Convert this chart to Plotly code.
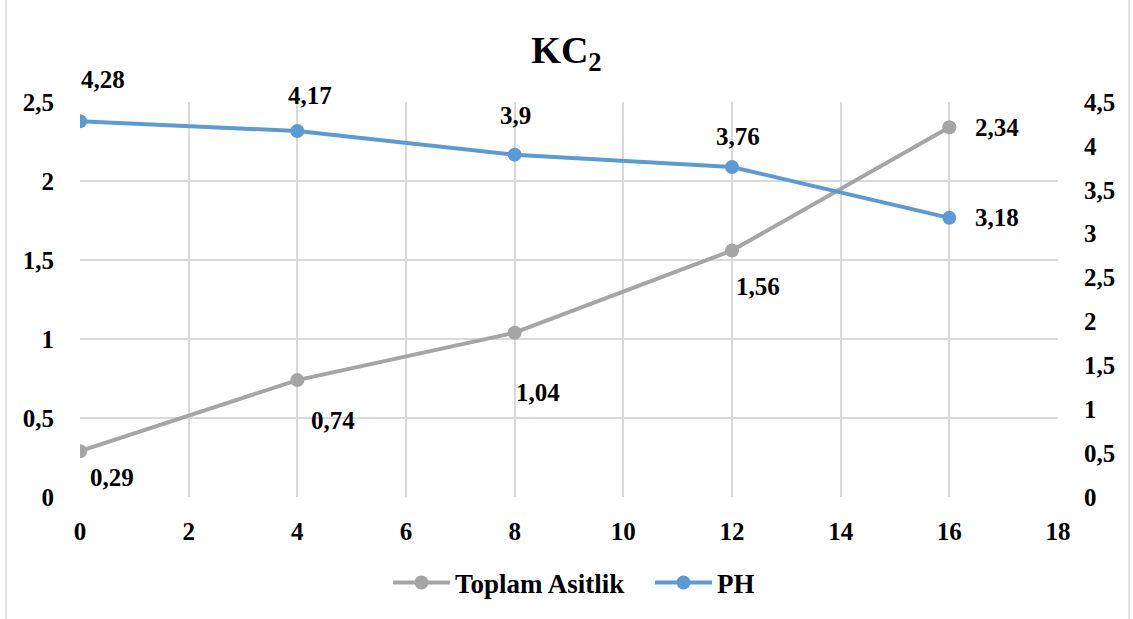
import plotly.graph_objects as go

x_days = [0, 4, 8, 12, 16]
toplam_asitlik = [0.29, 0.74, 1.04, 1.56, 2.34]
ph = [4.28, 4.17, 3.9, 3.76, 3.18]
asit_labels = ["0,29", "0,74", "1,04", "1,56", "2,34"]
ph_labels = ["4,28", "4,17", "3,9", "3,76", "3,18"]
x_ticks = [0, 2, 4, 6, 8, 10, 12, 14, 16, 18]
x_tick_text = ["0", "2", "4", "6", "8", "10", "12", "14", "16", "18"]
left_ticks = [0, 0.5, 1, 1.5, 2, 2.5]
left_tick_text = ["0", "0,5", "1", "1,5", "2", "2,5"]
right_ticks = [0, 0.5, 1, 1.5, 2, 2.5, 3, 3.5, 4, 4.5]
right_tick_text = ["0", "0,5", "1", "1,5", "2", "2,5", "3", "3,5", "4", "4,5"]

W, H = 1133, 619
L, R, T, B = 80, 75, 102, 122
pw, ph_h = W - L - R, H - T - B

FONT = "Liberation Serif"
GRAY = "#a5a5a5"
BLUE = "#5b9bd5"

def bold(items):
    return ["<b>" + t + "</b>" for t in items]

fig = go.Figure()
fig.add_trace(go.Scatter(x=x_days, y=toplam_asitlik, name="<b>Toplam Asitlik</b>", mode="lines+markers",
                         line=dict(color=GRAY, width=4), marker=dict(color=GRAY, size=14), yaxis="y"))
fig.add_trace(go.Scatter(x=x_days, y=ph, name="<b>PH</b>", mode="lines+markers",
                         line=dict(color=BLUE, width=4), marker=dict(color=BLUE, size=14), yaxis="y2"))

asit_shift = [(32, -26), (36, -40), (23, -60), (26, -36), (24, 0)]
ph_shift = [(23, 42), (13, 35), (1, 39), (6, 30), (24, 0)]
for i in range(len(x_days)):
    dx, dy = asit_shift[i]
    fig.add_annotation(x=x_days[i], y=toplam_asitlik[i], yref="y", text="<b>" + asit_labels[i] + "</b>",
                       showarrow=False, xshift=dx, yshift=dy, xanchor="center" if i < 4 else "left",
                       font=dict(family=FONT, size=25, color="black"))
    dx, dy = ph_shift[i]
    fig.add_annotation(x=x_days[i], y=ph[i], yref="y2", text="<b>" + ph_labels[i] + "</b>",
                       showarrow=False, xshift=dx, yshift=dy, xanchor="center" if i < 4 else "left",
                       font=dict(family=FONT, size=25, color="black"))

fig.add_shape(type="rect", xref="paper", yref="paper",
              x0=(6 - L) / pw, x1=(1129 - L) / pw, y0=(H - T - 640) / ph_h, y1=(H - T - 6) / ph_h,
              line=dict(color="#d9d9d9", width=1.5), fillcolor="rgba(0,0,0,0)", layer="below")

tickfont = dict(family=FONT, size=25, color="black")
fig.update_layout(
    width=W, height=H,
    font=dict(family=FONT, color="black"),
    margin=dict(l=L, r=R, t=T, b=B),
    paper_bgcolor="white", plot_bgcolor="white",
    title=dict(text="<b>KC<sub>2</sub></b>", x=0.5, xanchor="center", y=1 - 50 / H, yanchor="middle",
               font=dict(family=FONT, size=38, color="black")),
    xaxis=dict(range=[0, 18], tickvals=x_ticks, ticktext=bold(x_tick_text), showgrid=True,
               gridcolor="#d9d9d9", gridwidth=1.5, zeroline=False, showline=False, ticks="outside",
               ticklen=12, tickcolor="rgba(0,0,0,0)", tickfont=tickfont),
    yaxis=dict(range=[0, 2.5], tickvals=left_ticks, ticktext=bold(left_tick_text),
               showgrid=True, gridcolor="#d9d9d9", gridwidth=1.5, zeroline=False, showline=False,
               ticks="outside", ticklen=20, tickcolor="rgba(0,0,0,0)", tickfont=tickfont),
    yaxis2=dict(range=[0, 4.5], tickvals=right_ticks, ticktext=bold(right_tick_text),
                overlaying="y", side="right", showgrid=False, zeroline=False, showline=False,
                ticks="outside", ticklen=20, tickcolor="rgba(0,0,0,0)", tickfont=tickfont),
    legend=dict(orientation="h", x=(388 - L) / pw, xanchor="left", y=(T + ph_h - 583) / ph_h,
                yanchor="middle", font=dict(family=FONT, size=27, color="black"),
                itemwidth=57, entrywidth=190),
    showlegend=True,
)

fig.write_html("out.html")
